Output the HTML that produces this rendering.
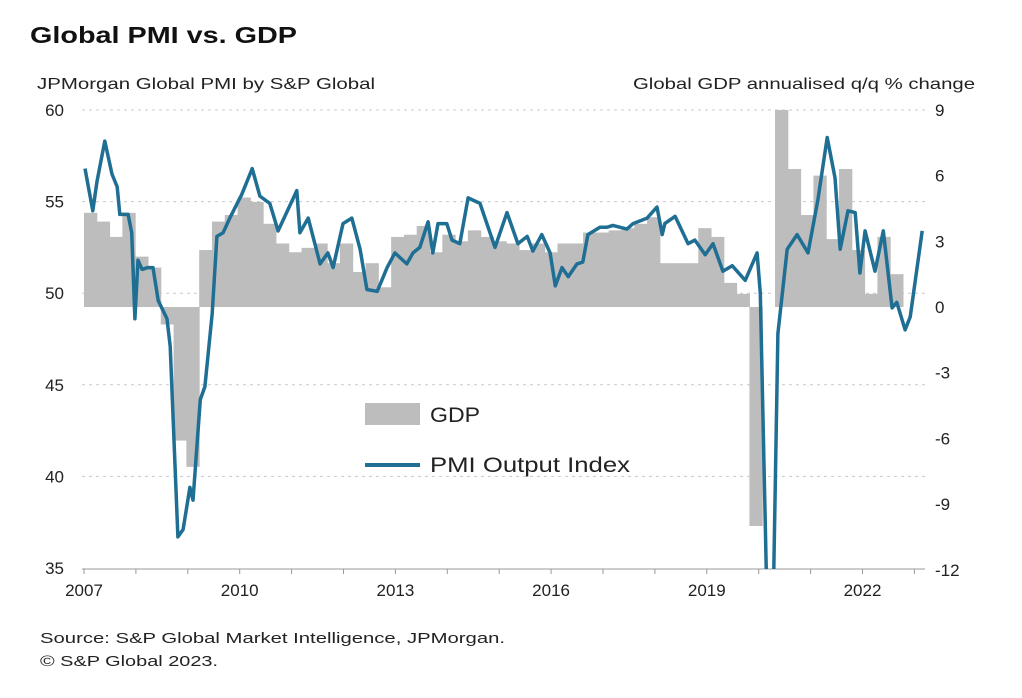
<!DOCTYPE html>
<html><head><meta charset="utf-8"><style>
html,body{margin:0;padding:0;background:#fff;overflow:hidden;width:1022px;height:698px;}
svg{display:block;}
svg text{font-family:"Liberation Sans",Arial,sans-serif;}
</style></head><body>
<svg width="1022" height="698" viewBox="0 0 1022 698">
<text x="30" y="43" font-size="23" font-weight="bold" fill="#111" textLength="267" lengthAdjust="spacingAndGlyphs">Global PMI vs. GDP</text>
<text x="37" y="89" font-size="16" fill="#222" textLength="338" lengthAdjust="spacingAndGlyphs">JPMorgan Global PMI by S&amp;P Global</text>
<text x="633" y="89" font-size="16" fill="#222" textLength="342" lengthAdjust="spacingAndGlyphs">Global GDP annualised q/q % change</text>
<defs><clipPath id="pc"><rect x="78" y="110" width="860" height="459"/></clipPath>
<clipPath id="lc"><rect x="78" y="100" width="860" height="469"/></clipPath></defs>
<g id="grid"></g><g id="bars" clip-path="url(#pc)"></g><g id="axes"></g><g id="line" clip-path="url(#lc)"></g>
<g>
<rect x="365" y="403" width="55" height="22" fill="#bdbdbd"/>
<text x="430" y="422" font-size="21" fill="#222" textLength="50" lengthAdjust="spacingAndGlyphs">GDP</text>
<line x1="365" y1="465" x2="420" y2="465" stroke="#1f6e93" stroke-width="4"/>
<text x="430" y="472" font-size="21" fill="#222" textLength="200" lengthAdjust="spacingAndGlyphs">PMI Output Index</text>
</g>
<text x="40" y="643" font-size="15" fill="#222" textLength="465" lengthAdjust="spacingAndGlyphs">Source: S&amp;P Global Market Intelligence, JPMorgan.</text>
<text x="40" y="666" font-size="15" fill="#222" textLength="178" lengthAdjust="spacingAndGlyphs">© S&amp;P Global 2023.</text>
</svg>
<script>
const leftTicks=[60,55,50,45,40,35];
const rightTicks=[9,6,3,0,-3,-6,-9,-12];
const yearTicks=[2007,2010,2013,2016,2019,2022];
const gdpValues=[4.3,3.9,3.2,4.3,2.3,1.8,-0.8,-6.1,-7.3,2.6,3.9,4.2,5.0,4.8,3.8,2.9,2.5,2.7,2.9,2.0,2.9,1.6,2.0,0.9,3.2,3.3,3.7,2.5,3.3,3.0,3.5,3.2,3.0,2.9,2.6,2.9,2.5,2.9,2.9,3.4,3.4,3.5,3.6,3.8,4.1,2.0,2.0,2.0,3.6,3.2,1.1,0.6,-10.0,0,30,6.3,4.2,6.0,3.1,6.3,2.6,0.6,3.2,1.5];
const pmiDates=[2007.02,2007.17,2007.25,2007.40,2007.54,2007.64,2007.69,2007.85,2007.92,2007.98,2008.04,2008.12,2008.23,2008.33,2008.43,2008.60,2008.66,2008.81,2008.91,2009.04,2009.10,2009.24,2009.33,2009.47,2009.56,2009.68,2009.81,2010.04,2010.24,2010.39,2010.58,2010.74,2011.10,2011.16,2011.32,2011.55,2011.70,2011.80,2011.99,2012.16,2012.32,2012.45,2012.65,2012.84,2012.99,2013.22,2013.34,2013.47,2013.63,2013.72,2013.82,2013.99,2014.09,2014.24,2014.40,2014.63,2014.92,2015.15,2015.36,2015.54,2015.65,2015.82,2015.98,2016.08,2016.21,2016.33,2016.50,2016.61,2016.71,2016.94,2017.08,2017.19,2017.46,2017.58,2017.85,2018.04,2018.14,2018.19,2018.39,2018.64,2018.77,2018.97,2019.12,2019.31,2019.49,2019.74,2019.97,2020.03,2020.16,2020.28,2020.37,2020.55,2020.74,2020.95,2021.14,2021.32,2021.47,2021.57,2021.72,2021.86,2021.95,2022.05,2022.24,2022.40,2022.57,2022.66,2022.82,2022.92,2023.15];
const pmiValues=[56.8,54.5,56.1,58.3,56.5,55.8,54.3,54.3,53.3,48.6,51.8,51.3,51.4,51.4,49.6,48.6,47.1,36.7,37.1,39.4,38.7,44.2,44.9,48.9,53.1,53.3,54.1,55.4,56.8,55.3,54.9,53.4,55.6,53.3,54.1,51.6,52.2,51.4,53.8,54.1,52.4,50.2,50.1,51.4,52.2,51.6,52.2,52.5,53.9,52.2,53.8,53.8,52.9,52.7,55.2,54.9,52.5,54.4,52.7,53.1,52.3,53.2,52.2,50.4,51.4,50.9,51.6,51.7,53.2,53.6,53.6,53.7,53.5,53.8,54.1,54.7,53.2,53.8,54.2,52.7,52.9,52.1,52.7,51.2,51.5,50.7,52.2,50.0,33,33,47.8,52.4,53.2,52.2,55.1,58.5,56.3,52.4,54.5,54.4,51.1,53.4,51.2,53.4,49.2,49.5,48.0,48.7,53.4];
const X=y=>84+(y-2007)*51.9, YL=v=>110+(60-v)*18.32, YR=v=>307-v*21.9;
const QW=(903-84)/gdpValues.length;
const NS='http://www.w3.org/2000/svg';
function mk(t,a,p){const e=document.createElementNS(NS,t);for(const k in a)e.setAttribute(k,a[k]);p.appendChild(e);return e;}
const grid=document.getElementById('grid'),axes=document.getElementById('axes'),bars=document.getElementById('bars'),line=document.getElementById('line');
leftTicks.forEach(v=>{
 if(v>35){const g=mk('line',{x1:82,x2:925,y1:YL(v),y2:YL(v),stroke:'#c8c8c8','stroke-dasharray':'3,4'},grid);
 
 }
 const t=mk('text',{x:64,y:YL(v)+6,'font-size':17,'text-anchor':'end',fill:'#222'},axes);t.textContent=v;
 
 
});
rightTicks.forEach(v=>{const t=mk('text',{x:935,y:YR(v)+6,'font-size':17,fill:'#222'},axes);t.textContent=v;
 
 });
const ax=mk('line',{x1:82,x2:925,y1:569,y2:569,stroke:'#999'},axes);


for(let y=2007;y<=2023;y++){const tk=mk('line',{x1:X(y),x2:X(y),y1:569,y2:574,stroke:'#999'},axes);
 
 }
yearTicks.forEach(y=>{const t=mk('text',{x:X(y),y:596,'font-size':17,'text-anchor':'middle',fill:'#222'},axes);t.textContent=y;
 
 });
gdpValues.forEach((v,i)=>{const x0=84+i*QW;
 const y0=Math.min(YR(v),YR(0)),h=Math.abs(YR(v)-YR(0));
 const r=mk('rect',{x:x0,y:y0,width:QW+0.5,height:h,fill:'#bdbdbd'},bars);
 
 });
const p=mk('path',{d:pmiDates.map((d,i)=>(i?'L':'M')+X(d).toFixed(1)+','+YL(pmiValues[i]).toFixed(1)).join(''),fill:'none',stroke:'#1f6e93','stroke-width':3.5,'stroke-linejoin':'round'},line);


</script>
</body></html>
